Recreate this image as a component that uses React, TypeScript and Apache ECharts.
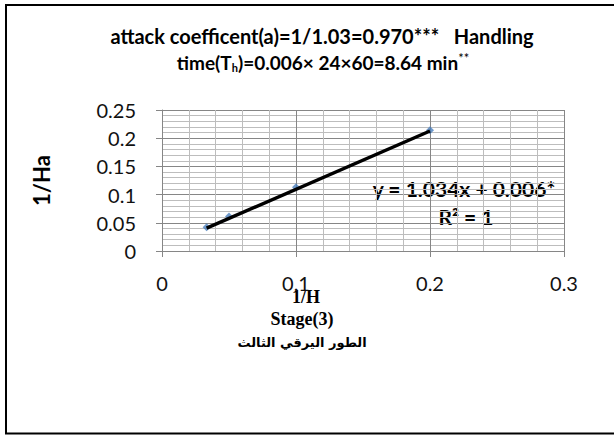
import React, { useEffect, useRef } from "react";
import * as echarts from "echarts";

// Data
const xValues = [0.0333, 0.05, 0.1, 0.2]; // 1/H
const yValues = [0.042, 0.061, 0.113, 0.214]; // 1/Ha
const trendSlope = 1.034;
const trendIntercept = 0.006;
const xTicks = { min: 0, max: 0.3, interval: 0.1 };
const yTicks = { min: 0, max: 0.25, interval: 0.05 };

const titleLine1 = "attack coefficent(a)=1/1.03=0.970***   Handling";
const equationText = "y = 1.034x + 0.006*";
const r2Text = "R² = 1";
const yName = "1/Ha";
const xName1 = "1/H";
const xName2 = "Stage(3)";
const xName3 = "الطور اليرقي الثالث";

export default function App() {
  const ref = useRef<HTMLDivElement>(null);
  useEffect(() => {
    if (!ref.current) return;
    const chart = echarts.init(ref.current, null, { renderer: "svg" });
    const points = xValues.map((x, i) => [x, yValues[i]]);
    const xMin = Math.min(...xValues);
    const xMax = Math.max(...xValues);
    const trend = [
      [xMin, trendSlope * xMin + trendIntercept],
      [xMax, trendSlope * xMax + trendIntercept],
    ];
    const labelFont = "Lato, 'Open Sans', sans-serif";
    chart.setOption({
      animation: false,
      backgroundColor: "#ffffff",
      grid: { left: 162, top: 110, right: 50, bottom: 186, containLabel: false },
      xAxis: {
        type: "value",
        min: xTicks.min,
        max: xTicks.max,
        interval: xTicks.interval,
        axisLine: { show: true, onZero: false, lineStyle: { color: "#868686", width: 1 } },
        axisTick: { show: true, length: 6, lineStyle: { color: "#868686" } },
        axisLabel: {
          color: "#111",
          fontSize: 20,
          fontFamily: labelFont,
          margin: 22,
          formatter: (v: number) => String(Math.round(v * 10) / 10),
        },
        splitLine: { show: true, lineStyle: { color: "#868686", width: 1 } },
        minorTick: { show: false, splitNumber: 5 },
        minorSplitLine: { show: true, lineStyle: { color: "#bdbdbd", width: 1 } },
      },
      yAxis: {
        type: "value",
        min: yTicks.min,
        max: yTicks.max,
        interval: yTicks.interval,
        name: yName,
        nameLocation: "middle",
        nameRotate: 90,
        nameGap: 110,
        nameTextStyle: { color: "#000", fontSize: 22, fontWeight: "bold", fontFamily: labelFont },
        axisLine: { show: true, lineStyle: { color: "#868686", width: 1 } },
        axisTick: { show: true, length: 6, lineStyle: { color: "#868686" } },
        axisLabel: {
          color: "#111",
          fontSize: 20,
          fontFamily: labelFont,
          margin: 26,
          formatter: (v: number) => String(Math.round(v * 100) / 100),
        },
        splitLine: { show: true, lineStyle: { color: "#868686", width: 1 } },
        minorTick: { show: false, splitNumber: 5 },
        minorSplitLine: { show: true, lineStyle: { color: "#bdbdbd", width: 1 } },
      },
      series: [
        {
          type: "scatter",
          data: points,
          symbol: "diamond",
          symbolSize: 8,
          itemStyle: { color: "#4a7ebb" },
          z: 3,
        },
        {
          type: "line",
          data: trend,
          symbol: "none",
          lineStyle: { color: "#000", width: 3.5 },
          z: 4,
        },
      ],
      graphic: [
        {
          type: "rect",
          shape: { x: 6, y: 5, width: 620, height: 428.5 },
          style: { fill: "none", stroke: "#000", lineWidth: 2 },
          silent: true,
        },
        {
          type: "text",
          x: 322,
          y: 36,
          style: {
            text: titleLine1,
            font: "bold 20px Lato, sans-serif",
            fill: "#000",
            align: "center",
            verticalAlign: "middle",
          },
        },
        {
          type: "text",
          x: 323,
          y: 62,
          style: {
            text: "{t|time(T}{sub|h}{t|)=0.006× 24×60=8.64 min}{sup|**}",
            align: "center",
            verticalAlign: "middle",
            rich: {
              t: { font: "bold 19px Lato, sans-serif", fill: "#000", lineHeight: 22 },
              sub: { font: "bold 11px Lato, sans-serif", fill: "#000", lineHeight: 22, verticalAlign: "bottom", padding: [9, 0, 0, 0] },
              sup: { font: "13px Lato, sans-serif", fill: "#000", lineHeight: 22, verticalAlign: "top", padding: [0, 0, 7, 0] },
            },
          },
        },
        {
          type: "text",
          x: 464,
          y: 188,
          style: {
            text: equationText,
            font: "bold 21px Lato, sans-serif",
            fill: "#000",
            align: "center",
            verticalAlign: "middle",
          },
        },
        {
          type: "text",
          x: 466,
          y: 216,
          style: {
            text: r2Text,
            font: "bold 21px Lato, sans-serif",
            fill: "#000",
            align: "center",
            verticalAlign: "middle",
          },
        },
        {
          type: "text",
          x: 306,
          y: 297,
          style: {
            text: xName1,
            font: "bold 18px 'Liberation Serif', serif",
            fill: "#000",
            align: "center",
            verticalAlign: "middle",
          },
        },
        {
          type: "text",
          x: 302,
          y: 319,
          style: {
            text: xName2,
            font: "bold 18px 'Liberation Serif', serif",
            fill: "#000",
            align: "center",
            verticalAlign: "middle",
          },
        },
        {
          type: "text",
          x: 302,
          y: 342,
          style: {
            text: xName3,
            font: "bold 13px 'DejaVu Sans', sans-serif",
            fill: "#000",
            align: "center",
            verticalAlign: "middle",
          },
        },
      ],
    });
    return () => chart.dispose();
  }, []);
  return (
    <div
      ref={ref}
      style={{ position: "fixed", left: 0, top: 0, width: 614, height: 437 }}
    />
  );
}
